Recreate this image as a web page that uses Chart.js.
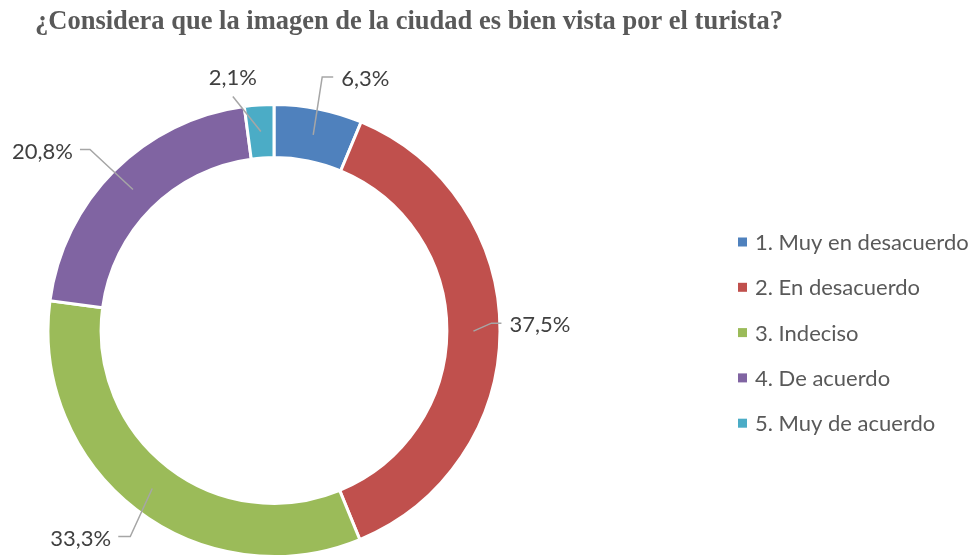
<!DOCTYPE html>
<html>
<head>
<meta charset="utf-8">
<script src="https://cdn.jsdelivr.net/npm/chart.js@4/dist/chart.umd.min.js"></script>
<style>
  html, body { margin: 0; padding: 0; background: #fff; }
  #wrap { width: 977px; height: 558px; }
</style>
</head>
<body>
<div id="wrap"><canvas id="chart" width="977" height="558"></canvas></div>
<script>
const title = '¿Considera que la imagen de la ciudad es bien vista por el turista?'
const categories = ['1. Muy en desacuerdo', '2. En desacuerdo', '3. Indeciso', '4. De acuerdo', '5. Muy de acuerdo']
const values = [6.3, 37.5, 33.3, 20.8, 2.1]
const valueLabels = ['6,3%', '37,5%', '33,3%', '20,8%', '2,1%']
const colors = ['#4F81BD', '#C0504D', '#9BBB59', '#8064A2', '#4BACC6']

// leader line geometry, relative to the point on the ring
// elbow: offset of the bend, tail: horizontal run after the bend, text side
const leaders = [
  { elbow: [9, -58], tail: 11, side: 'left' },
  { elbow: [18, -8], tail: 10, side: 'left' },
  { elbow: [-22, 48], tail: -12, side: 'right' },
  { elbow: [-43, -40], tail: -10, side: 'right' },
  { elbow: [-28, -35], tail: 0, side: 'top' },
]

const textColor = '#595959'
const labelFont = '22px Lato, "Open Sans", sans-serif'

const decorPlugin = {
  id: 'decor',
  afterDraw(chart) {
    const ctx = chart.ctx
    const meta = chart.getDatasetMeta(0)
    ctx.save()

    // Title
    ctx.font = 'bold 26.5px "Liberation Serif", "Times New Roman", serif'
    ctx.fillStyle = textColor
    ctx.textAlign = 'left'
    ctx.textBaseline = 'middle'
    ctx.fillText(title, 35, 22)

    // Data labels with leader lines
    ctx.font = labelFont
    meta.data.forEach((arc, i) => {
      const p = arc.getProps(['x', 'y', 'startAngle', 'endAngle', 'innerRadius', 'outerRadius'], true)
      const mid = (p.startAngle + p.endAngle) / 2
      const r = (p.innerRadius + p.outerRadius) / 2
      const sx = p.x + Math.cos(mid) * r
      const sy = p.y + Math.sin(mid) * r
      const lay = leaders[i]
      const ex = sx + lay.elbow[0]
      const ey = sy + lay.elbow[1]
      const tx = ex + lay.tail

      ctx.beginPath()
      ctx.strokeStyle = '#A6A6A6'
      ctx.lineWidth = 1.5
      ctx.moveTo(sx, sy)
      ctx.lineTo(ex, ey)
      if (lay.tail) ctx.lineTo(tx, ey)
      ctx.stroke()

      ctx.fillStyle = '#404040'
      if (lay.side === 'left') {
        ctx.textAlign = 'left'
        ctx.textBaseline = 'middle'
        ctx.fillText(valueLabels[i], tx + 8, ey + 2)
      } else if (lay.side === 'right') {
        ctx.textAlign = 'right'
        ctx.textBaseline = 'middle'
        ctx.fillText(valueLabels[i], tx - 7, ey + 2)
      } else {
        ctx.textAlign = 'center'
        ctx.textBaseline = 'middle'
        ctx.fillText(valueLabels[i], ex, ey - 19)
      }
    })

    // Legend
    ctx.font = labelFont
    ctx.textAlign = 'left'
    ctx.textBaseline = 'middle'
    categories.forEach((c, i) => {
      const y = 242 + i * 45.3
      ctx.fillStyle = colors[i]
      ctx.fillRect(738, y - 4.5, 9, 9)
      ctx.fillStyle = textColor
      ctx.fillText(c, 755, y + 1)
    })
    ctx.restore()
  }
}

new Chart(document.getElementById('chart'), {
  type: 'doughnut',
  plugins: [decorPlugin],
  data: {
    labels: categories,
    datasets: [{
      data: values,
      backgroundColor: colors,
      borderColor: '#ffffff',
      borderWidth: 3,
      borderJoinStyle: 'miter',
    }]
  },
  options: {
    responsive: false,
    animation: false,
    cutout: '76.5%',
    layout: { padding: { left: 45, right: 474, top: 103, bottom: -2 } },
    plugins: {
      legend: { display: false },
      tooltip: { enabled: false },
      title: { display: false },
    }
  }
})
</script>
</body>
</html>
